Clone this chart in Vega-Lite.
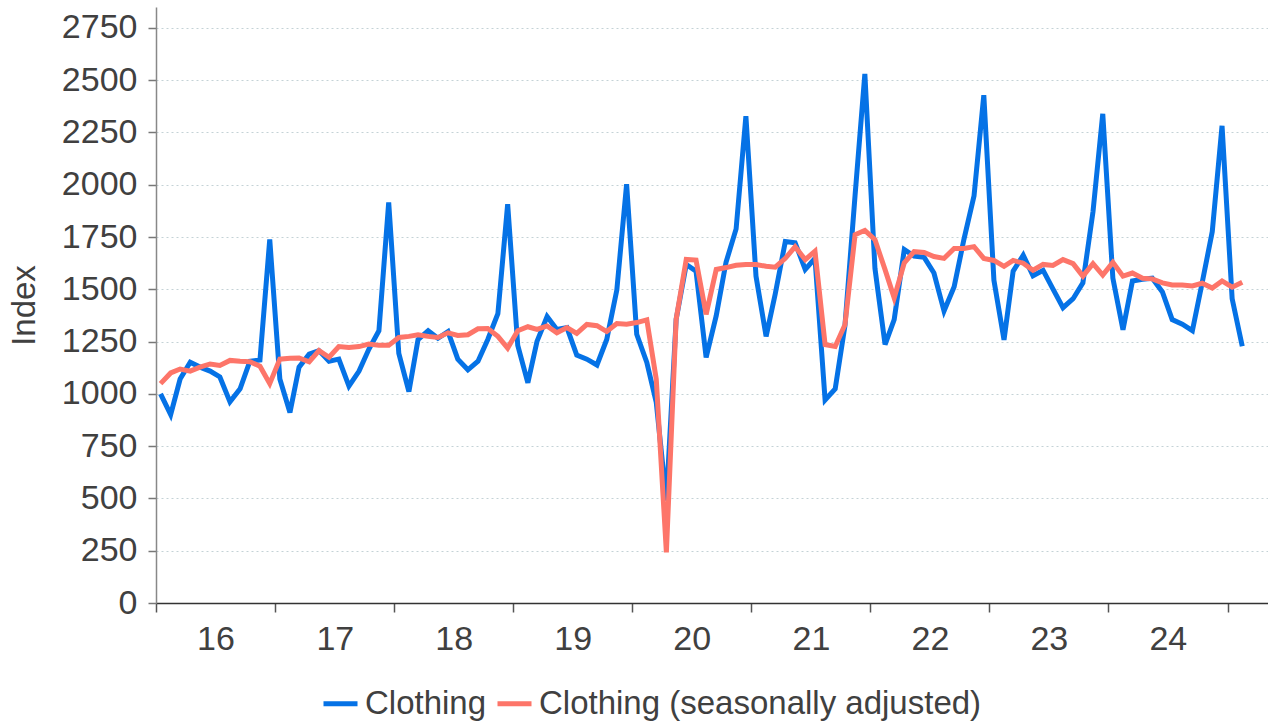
{
  "$schema": "https://vega.github.io/schema/vega-lite/v6.json",
  "width": 1112,
  "height": 596,
  "autosize": {"type": "none"},
  "padding": {"left": 156, "top": 7, "right": 0, "bottom": 118},
  "background": "white",
  "config": {
    "font": "Liberation Sans",
    "view": {"stroke": null}
  },
  "data": {
    "values": [
      {"d":"2016-01-15","Clothing":1000,"Clothing (seasonally adjusted)":1049},
      {"d":"2016-02-15","Clothing":901,"Clothing (seasonally adjusted)":1100},
      {"d":"2016-03-15","Clothing":1071,"Clothing (seasonally adjusted)":1119},
      {"d":"2016-04-15","Clothing":1151,"Clothing (seasonally adjusted)":1109},
      {"d":"2016-05-15","Clothing":1128,"Clothing (seasonally adjusted)":1128},
      {"d":"2016-06-15","Clothing":1109,"Clothing (seasonally adjusted)":1143},
      {"d":"2016-07-15","Clothing":1081,"Clothing (seasonally adjusted)":1136},
      {"d":"2016-08-15","Clothing":962,"Clothing (seasonally adjusted)":1160},
      {"d":"2016-09-15","Clothing":1024,"Clothing (seasonally adjusted)":1156},
      {"d":"2016-10-15","Clothing":1156,"Clothing (seasonally adjusted)":1154},
      {"d":"2016-11-15","Clothing":1162,"Clothing (seasonally adjusted)":1132},
      {"d":"2016-12-15","Clothing":1738,"Clothing (seasonally adjusted)":1049},
      {"d":"2017-01-15","Clothing":1071,"Clothing (seasonally adjusted)":1166},
      {"d":"2017-02-15","Clothing":911,"Clothing (seasonally adjusted)":1170},
      {"d":"2017-03-15","Clothing":1128,"Clothing (seasonally adjusted)":1172},
      {"d":"2017-04-15","Clothing":1190,"Clothing (seasonally adjusted)":1153},
      {"d":"2017-05-15","Clothing":1207,"Clothing (seasonally adjusted)":1207},
      {"d":"2017-06-15","Clothing":1156,"Clothing (seasonally adjusted)":1175},
      {"d":"2017-07-15","Clothing":1166,"Clothing (seasonally adjusted)":1226},
      {"d":"2017-08-15","Clothing":1037,"Clothing (seasonally adjusted)":1222},
      {"d":"2017-09-15","Clothing":1109,"Clothing (seasonally adjusted)":1226},
      {"d":"2017-10-15","Clothing":1213,"Clothing (seasonally adjusted)":1238},
      {"d":"2017-11-15","Clothing":1302,"Clothing (seasonally adjusted)":1232},
      {"d":"2017-12-15","Clothing":1916,"Clothing (seasonally adjusted)":1232},
      {"d":"2018-01-15","Clothing":1194,"Clothing (seasonally adjusted)":1270},
      {"d":"2018-02-15","Clothing":1011,"Clothing (seasonally adjusted)":1275},
      {"d":"2018-03-15","Clothing":1260,"Clothing (seasonally adjusted)":1283},
      {"d":"2018-04-15","Clothing":1302,"Clothing (seasonally adjusted)":1275},
      {"d":"2018-05-15","Clothing":1266,"Clothing (seasonally adjusted)":1270},
      {"d":"2018-06-15","Clothing":1298,"Clothing (seasonally adjusted)":1292},
      {"d":"2018-07-15","Clothing":1166,"Clothing (seasonally adjusted)":1279},
      {"d":"2018-08-15","Clothing":1115,"Clothing (seasonally adjusted)":1283},
      {"d":"2018-09-15","Clothing":1156,"Clothing (seasonally adjusted)":1311},
      {"d":"2018-10-15","Clothing":1260,"Clothing (seasonally adjusted)":1313},
      {"d":"2018-11-15","Clothing":1383,"Clothing (seasonally adjusted)":1275},
      {"d":"2018-12-15","Clothing":1907,"Clothing (seasonally adjusted)":1219},
      {"d":"2019-01-15","Clothing":1232,"Clothing (seasonally adjusted)":1302},
      {"d":"2019-02-15","Clothing":1053,"Clothing (seasonally adjusted)":1321},
      {"d":"2019-03-15","Clothing":1251,"Clothing (seasonally adjusted)":1308},
      {"d":"2019-04-15","Clothing":1370,"Clothing (seasonally adjusted)":1325},
      {"d":"2019-05-15","Clothing":1308,"Clothing (seasonally adjusted)":1292},
      {"d":"2019-06-15","Clothing":1317,"Clothing (seasonally adjusted)":1317},
      {"d":"2019-07-15","Clothing":1185,"Clothing (seasonally adjusted)":1289},
      {"d":"2019-08-15","Clothing":1166,"Clothing (seasonally adjusted)":1332},
      {"d":"2019-09-15","Clothing":1138,"Clothing (seasonally adjusted)":1326},
      {"d":"2019-10-15","Clothing":1260,"Clothing (seasonally adjusted)":1298},
      {"d":"2019-11-15","Clothing":1497,"Clothing (seasonally adjusted)":1336},
      {"d":"2019-12-15","Clothing":2003,"Clothing (seasonally adjusted)":1333},
      {"d":"2020-01-15","Clothing":1285,"Clothing (seasonally adjusted)":1341},
      {"d":"2020-02-15","Clothing":1150,"Clothing (seasonally adjusted)":1354},
      {"d":"2020-03-15","Clothing":959,"Clothing (seasonally adjusted)":1070},
      {"d":"2020-04-15","Clothing":490,"Clothing (seasonally adjusted)":242},
      {"d":"2020-05-15","Clothing":1357,"Clothing (seasonally adjusted)":1357},
      {"d":"2020-06-15","Clothing":1619,"Clothing (seasonally adjusted)":1643},
      {"d":"2020-07-15","Clothing":1587,"Clothing (seasonally adjusted)":1640},
      {"d":"2020-08-15","Clothing":1174,"Clothing (seasonally adjusted)":1380},
      {"d":"2020-09-15","Clothing":1374,"Clothing (seasonally adjusted)":1595},
      {"d":"2020-10-15","Clothing":1629,"Clothing (seasonally adjusted)":1604},
      {"d":"2020-11-15","Clothing":1789,"Clothing (seasonally adjusted)":1615},
      {"d":"2020-12-15","Clothing":2328,"Clothing (seasonally adjusted)":1619},
      {"d":"2021-01-15","Clothing":1563,"Clothing (seasonally adjusted)":1619},
      {"d":"2021-02-15","Clothing":1275,"Clothing (seasonally adjusted)":1610},
      {"d":"2021-03-15","Clothing":1478,"Clothing (seasonally adjusted)":1606},
      {"d":"2021-04-15","Clothing":1729,"Clothing (seasonally adjusted)":1648},
      {"d":"2021-05-15","Clothing":1723,"Clothing (seasonally adjusted)":1704},
      {"d":"2021-06-15","Clothing":1595,"Clothing (seasonally adjusted)":1642},
      {"d":"2021-07-15","Clothing":1648,"Clothing (seasonally adjusted)":1682},
      {"d":"2021-08-15","Clothing":971,"Clothing (seasonally adjusted)":1236},
      {"d":"2021-09-15","Clothing":1024,"Clothing (seasonally adjusted)":1227},
      {"d":"2021-10-15","Clothing":1327,"Clothing (seasonally adjusted)":1331},
      {"d":"2021-11-15","Clothing":1950,"Clothing (seasonally adjusted)":1761},
      {"d":"2021-12-15","Clothing":2530,"Clothing (seasonally adjusted)":1782},
      {"d":"2022-01-15","Clothing":1600,"Clothing (seasonally adjusted)":1737},
      {"d":"2022-02-15","Clothing":1236,"Clothing (seasonally adjusted)":1594},
      {"d":"2022-03-15","Clothing":1355,"Clothing (seasonally adjusted)":1459},
      {"d":"2022-04-15","Clothing":1690,"Clothing (seasonally adjusted)":1627},
      {"d":"2022-05-15","Clothing":1659,"Clothing (seasonally adjusted)":1680},
      {"d":"2022-06-15","Clothing":1653,"Clothing (seasonally adjusted)":1676},
      {"d":"2022-07-15","Clothing":1578,"Clothing (seasonally adjusted)":1657},
      {"d":"2022-08-15","Clothing":1396,"Clothing (seasonally adjusted)":1648},
      {"d":"2022-09-15","Clothing":1512,"Clothing (seasonally adjusted)":1695},
      {"d":"2022-10-15","Clothing":1739,"Clothing (seasonally adjusted)":1695},
      {"d":"2022-11-15","Clothing":1947,"Clothing (seasonally adjusted)":1704},
      {"d":"2022-12-15","Clothing":2428,"Clothing (seasonally adjusted)":1648},
      {"d":"2023-01-15","Clothing":1544,"Clothing (seasonally adjusted)":1638},
      {"d":"2023-02-15","Clothing":1258,"Clothing (seasonally adjusted)":1610},
      {"d":"2023-03-15","Clothing":1587,"Clothing (seasonally adjusted)":1638},
      {"d":"2023-04-15","Clothing":1663,"Clothing (seasonally adjusted)":1625},
      {"d":"2023-05-15","Clothing":1565,"Clothing (seasonally adjusted)":1591},
      {"d":"2023-06-15","Clothing":1591,"Clothing (seasonally adjusted)":1619},
      {"d":"2023-07-15","Clothing":1502,"Clothing (seasonally adjusted)":1614},
      {"d":"2023-08-15","Clothing":1412,"Clothing (seasonally adjusted)":1642},
      {"d":"2023-09-15","Clothing":1455,"Clothing (seasonally adjusted)":1623},
      {"d":"2023-10-15","Clothing":1531,"Clothing (seasonally adjusted)":1563},
      {"d":"2023-11-15","Clothing":1871,"Clothing (seasonally adjusted)":1623},
      {"d":"2023-12-15","Clothing":2339,"Clothing (seasonally adjusted)":1568},
      {"d":"2024-01-15","Clothing":1553,"Clothing (seasonally adjusted)":1629},
      {"d":"2024-02-15","Clothing":1307,"Clothing (seasonally adjusted)":1563},
      {"d":"2024-03-15","Clothing":1540,"Clothing (seasonally adjusted)":1578},
      {"d":"2024-04-15","Clothing":1548,"Clothing (seasonally adjusted)":1553},
      {"d":"2024-05-15","Clothing":1553,"Clothing (seasonally adjusted)":1550},
      {"d":"2024-06-15","Clothing":1487,"Clothing (seasonally adjusted)":1531},
      {"d":"2024-07-15","Clothing":1355,"Clothing (seasonally adjusted)":1521},
      {"d":"2024-08-15","Clothing":1333,"Clothing (seasonally adjusted)":1521},
      {"d":"2024-09-15","Clothing":1302,"Clothing (seasonally adjusted)":1516},
      {"d":"2024-10-15","Clothing":1531,"Clothing (seasonally adjusted)":1529},
      {"d":"2024-11-15","Clothing":1776,"Clothing (seasonally adjusted)":1506},
      {"d":"2024-12-15","Clothing":2282,"Clothing (seasonally adjusted)":1540},
      {"d":"2025-01-15","Clothing":1455,"Clothing (seasonally adjusted)":1510},
      {"d":"2025-02-15","Clothing":1228,"Clothing (seasonally adjusted)":1534}
    ]
  },
  "transform": [
    {"fold": ["Clothing", "Clothing (seasonally adjusted)"], "as": ["series", "value"]}
  ],
  "mark": {"type": "line", "strokeWidth": 5, "strokeJoin": "miter", "clip": true},
  "encoding": {
    "x": {
      "field": "d",
      "type": "temporal",
      "scale": {
        "type": "utc",
        "domain": [
          {"year": 2016, "month": 1, "date": 1, "utc": true},
          {"year": 2025, "month": 5, "date": 5, "utc": true}
        ]
      },
      "axis": {
        "title": null,
        "values": [
          {"year": 2016, "month": 1, "date": 1, "utc": true},
          {"year": 2017, "month": 1, "date": 1, "utc": true},
          {"year": 2018, "month": 1, "date": 1, "utc": true},
          {"year": 2019, "month": 1, "date": 1, "utc": true},
          {"year": 2020, "month": 1, "date": 1, "utc": true},
          {"year": 2021, "month": 1, "date": 1, "utc": true},
          {"year": 2022, "month": 1, "date": 1, "utc": true},
          {"year": 2023, "month": 1, "date": 1, "utc": true},
          {"year": 2024, "month": 1, "date": 1, "utc": true},
          {"year": 2025, "month": 1, "date": 1, "utc": true}
        ],
        "labelExpr": "utcyear(datum.value) < 2025 ? utcFormat(datum.value, '%y') : ''",
        "labelOffset": 59.5,
        "labelFlush": false,
        "labelOverlap": false,
        "labelBound": false,
        "labelFontSize": 34,
        "labelColor": "#404040",
        "labelPadding": 10,
        "tickSize": 9,
        "tickColor": "#555555",
        "tickWidth": 1.5,
        "domainColor": "#333333",
        "domainWidth": 1.5,
        "grid": false
      }
    },
    "y": {
      "field": "value",
      "type": "quantitative",
      "scale": {"domain": [0, 2850], "nice": false, "zero": true},
      "axis": {
        "title": "Index",
        "titleFontSize": 33,
        "titleFontWeight": "normal",
        "titleColor": "#404040",
        "titlePadding": 20,
        "format": "d",
        "values": [0, 250, 500, 750, 1000, 1250, 1500, 1750, 2000, 2250, 2500, 2750],
        "labelFontSize": 34,
        "labelColor": "#404040",
        "labelPadding": 11,
        "tickSize": 8,
        "tickColor": "#777777",
        "tickWidth": 1.5,
        "domainColor": "#888888",
        "domainWidth": 1.5,
        "grid": true,
        "gridColor": "#c4d2d6",
        "gridDash": [2, 3],
        "gridWidth": 1
      }
    },
    "color": {
      "field": "series",
      "type": "nominal",
      "scale": {
        "domain": ["Clothing", "Clothing (seasonally adjusted)"],
        "range": ["#0572e6", "#fd7569"]
      },
      "legend": {
        "title": null,
        "orient": "none",
        "direction": "horizontal",
        "legendX": 165,
        "legendY": 677,
        "symbolType": "stroke",
        "symbolSize": 1156,
        "symbolStrokeWidth": 5,
        "labelFontSize": 33,
        "labelColor": "#404040",
        "labelOffset": 5,
        "columnPadding": 0,
        "padding": 0,
        "labelLimit": 600
      }
    }
  }
}
